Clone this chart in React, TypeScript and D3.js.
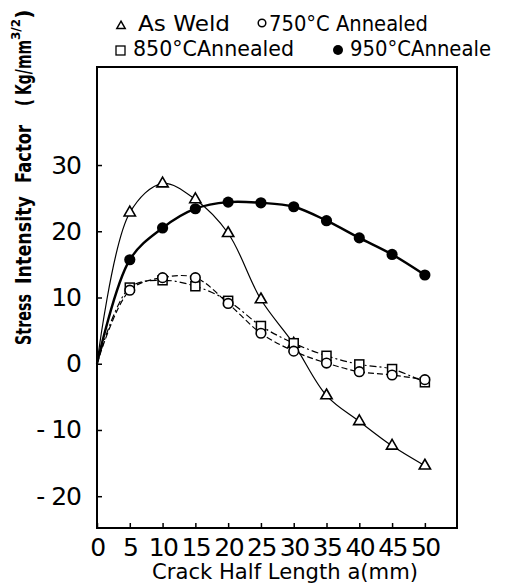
import React, { useEffect, useRef } from 'react';
import * as d3 from 'd3';

// crack half length a (mm)
const crackLength = [0, 5, 10, 15, 20, 25, 30, 35, 40, 45, 50];

const asWeld = [0, 22.8, 27.2, 24.8, 19.7, 9.7, 3.0, -4.8, -8.7, -12.4, -15.4];
const annealed750 = [0, 11.1, 13.0, 13.0, 9.1, 4.6, 1.9, 0.1, -1.2, -1.7, -2.4];
const annealed850 = [0, 11.5, 12.6, 11.7, 9.5, 5.7, 3.1, 1.2, -0.1, -0.8, -2.8];
const annealed950 = [0, 15.7, 20.5, 23.4, 24.4, 24.3, 23.7, 21.6, 19.0, 16.5, 13.4];

const xTicks = [0, 5, 10, 15, 20, 25, 30, 35, 40, 45, 50];
const yTicks = [-20, -10, 0, 10, 20, 30];

const W = 507;
const H = 585;
const margin = { top: 67, right: 50, bottom: 57, left: 97 };

const App = () => {
    const svgRef = useRef(null);

    useEffect(() => {
        const svg = d3.select(svgRef.current);
        svg.selectAll('*').remove();

        const innerWidth = W - margin.left - margin.right;
        const innerHeight = H - margin.top - margin.bottom;

        const x = d3.scaleLinear().domain([0, 54.9]).range([0, innerWidth]);
        const y = d3.scaleLinear().domain([-24.8, 44.8]).range([innerHeight, 0]);

        const g = svg.append('g')
            .attr('transform', `translate(${margin.left},${margin.top})`);

        // frame
        g.append('rect')
            .attr('width', innerWidth)
            .attr('height', innerHeight)
            .attr('fill', 'none')
            .attr('stroke', '#000')
            .attr('stroke-width', 2);

        // x axis, ticks pointing in
        const xAxis = g.append('g')
            .attr('transform', `translate(0,${innerHeight})`)
            .call(d3.axisBottom(x).tickValues(xTicks).tickSizeInner(-5).tickSizeOuter(0).tickPadding(10));
        xAxis.select('.domain').remove();
        xAxis.selectAll('line').attr('stroke-width', 1.5);
        xAxis.selectAll('text')
            .attr('font-family', '"Liberation Sans Narrow", "DejaVu Sans", sans-serif')
            .attr('font-size', 25)
            .attr('letter-spacing', -1.5)
            .attr('fill', '#000');

        const yAxis = g.append('g')
            .call(d3.axisLeft(y).tickValues(yTicks).tickSizeInner(-5).tickSizeOuter(0).tickPadding(16)
                .tickFormat(d => (+d < 0 ? `- ${-d}` : `${d}`)));
        yAxis.select('.domain').remove();
        yAxis.selectAll('line').attr('stroke-width', 1.5);
        yAxis.selectAll('text')
            .attr('font-family', '"Liberation Sans Narrow", "DejaVu Sans", sans-serif')
            .attr('font-size', 25)
            .attr('letter-spacing', -1)
            .attr('fill', '#000');

        const lineGen = d3.line()
            .x((d, i) => x(crackLength[i]))
            .y(d => y(d))
            .curve(d3.curveCatmullRom.alpha(0.5));

        const series = [
            { values: asWeld, width: 1.2, dash: null },
            { values: annealed850, width: 1.2, dash: '7,3,2,3' },
            { values: annealed750, width: 1.2, dash: '6,3' },
            { values: annealed950, width: 2.4, dash: null },
        ];

        series.forEach(s => {
            g.append('path')
                .datum(s.values)
                .attr('d', lineGen)
                .attr('fill', 'none')
                .attr('stroke', '#000')
                .attr('stroke-width', s.width)
                .attr('stroke-dasharray', s.dash);
        });

        const tri = d3.symbol().type(d3.symbolTriangle).size(55);
        const marks = g.append('g');

        // As Weld triangles
        marks.selectAll('.tri')
            .data(asWeld.slice(1))
            .enter()
            .append('path')
            .attr('d', tri)
            .attr('transform', (d, i) => `translate(${x(crackLength[i + 1])},${y(d)})`)
            .attr('fill', '#fff')
            .attr('stroke', '#000')
            .attr('stroke-width', 1.6);

        // 850 squares
        marks.selectAll('.sq')
            .data(annealed850.slice(1))
            .enter()
            .append('rect')
            .attr('x', (d, i) => x(crackLength[i + 1]) - 4.5)
            .attr('y', d => y(d) - 4.5)
            .attr('width', 9)
            .attr('height', 9)
            .attr('fill', '#fff')
            .attr('stroke', '#000')
            .attr('stroke-width', 1.5);

        // 750 open circles
        marks.selectAll('.oc')
            .data(annealed750.slice(1))
            .enter()
            .append('circle')
            .attr('cx', (d, i) => x(crackLength[i + 1]))
            .attr('cy', d => y(d))
            .attr('r', 4.8)
            .attr('fill', '#fff')
            .attr('stroke', '#000')
            .attr('stroke-width', 1.6);

        // 950 filled circles
        marks.selectAll('.fc')
            .data(annealed950.slice(1))
            .enter()
            .append('circle')
            .attr('cx', (d, i) => x(crackLength[i + 1]))
            .attr('cy', d => y(d))
            .attr('r', 5.6)
            .attr('fill', '#000');

        // axis titles
        svg.append('text')
            .attr('x', 285)
            .attr('y', 579)
            .attr('text-anchor', 'middle')
            .attr('font-family', '"DejaVu Sans", sans-serif')
            .attr('font-size', 22)
            .attr('textLength', 266)
            .attr('lengthAdjust', 'spacingAndGlyphs')
            .text('Crack Half Length a(mm)');

        // y title, word by word along the left edge (bottom to top)
        const yTitle = svg.append('g')
            .attr('transform', 'translate(31,0) rotate(-90)')
            .attr('font-family', '"DejaVu Sans", sans-serif')
            .attr('font-weight', 'bold')
            .attr('font-size', 21);
        const words = [
            { t: 'Stress', from: 345, len: 51 },
            { t: 'Intensity', from: 284, len: 88 },
            { t: 'Factor', from: 183, len: 58 },
            { t: '(', from: 106, len: 7 },
            { t: 'Kg/mm', from: 95, len: 55 },
        ];
        words.forEach(w => {
            yTitle.append('text')
                .attr('x', -w.from)
                .attr('y', 0)
                .attr('textLength', w.len)
                .attr('lengthAdjust', 'spacingAndGlyphs')
                .text(w.t);
        });
        yTitle.append('text').attr('x', -40).attr('y', -11).attr('font-size', 12).text('3/2');
        yTitle.append('text').attr('x', -19).attr('y', 0).text(')');

        // legend
        const leg = svg.append('g')
            .attr('font-family', '"DejaVu Sans", sans-serif')
            .attr('font-size', 22);

        leg.append('path').attr('d', d3.symbol().type(d3.symbolTriangle).size(30))
            .attr('transform', 'translate(121,26)')
            .attr('fill', '#fff').attr('stroke', '#000').attr('stroke-width', 1.5);
        leg.append('text').attr('x', 138).attr('y', 31).attr('textLength', 92).attr('lengthAdjust', 'spacingAndGlyphs').text('As  Weld');

        leg.append('circle').attr('cx', 262).attr('cy', 23).attr('r', 3.8)
            .attr('fill', '#fff').attr('stroke', '#000').attr('stroke-width', 1.5);
        leg.append('text').attr('x', 269).attr('y', 31).attr('textLength', 159).attr('lengthAdjust', 'spacingAndGlyphs').text('750°C Annealed');

        leg.append('rect').attr('x', 116).attr('y', 46).attr('width', 9).attr('height', 9)
            .attr('fill', '#fff').attr('stroke', '#000').attr('stroke-width', 1.3);
        leg.append('text').attr('x', 133).attr('y', 56).attr('textLength', 161).attr('lengthAdjust', 'spacingAndGlyphs').text('850°CAnnealed');

        leg.append('circle').attr('cx', 338).attr('cy', 50).attr('r', 5)
            .attr('fill', '#000');
        leg.append('text').attr('x', 350).attr('y', 56).attr('textLength', 141).attr('lengthAdjust', 'spacingAndGlyphs').text('950°CAnneale');
    }, []);

    return (
        <svg
            ref={svgRef}
            width={W}
            height={H}
            style={{ position: 'absolute', left: 0, top: 0, background: '#fff' }}
        />
    );
};

export default App;
